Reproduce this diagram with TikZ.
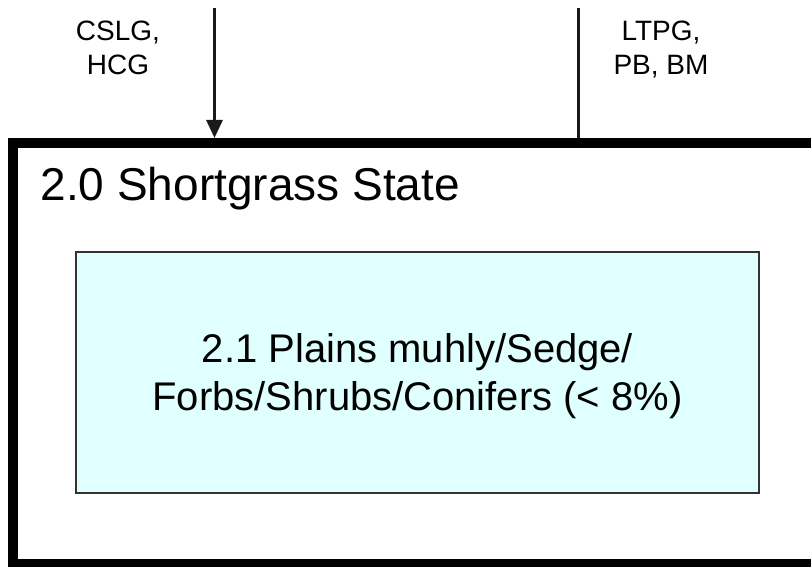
\documentclass[tikz,border=0pt]{standalone}
\usepackage{fontspec}
\setmainfont{Liberation Sans}
\usetikzlibrary{arrows.meta}
\definecolor{paleCyan}{HTML}{E0FFFF}
\definecolor{boxEdge}{HTML}{333333}
\definecolor{lineGray}{HTML}{1A1A1A}
\begin{document}
\begin{tikzpicture}[x=1pt,y=-1pt,
  statebox/.style={draw=black,line width=10pt,inner sep=0pt},
  phasebox/.style={draw=boxEdge,line width=2pt,fill=paleCyan,inner sep=0pt,
    minimum width=683pt,minimum height=241pt,align=center,text depth=0pt,
    font=\fontsize{40}{48}\selectfont},
  translabel/.style={align=center,text depth=0pt,font=\fontsize{28}{34}\selectfont},
  transline/.style={draw=lineGray,line width=3pt}]
\useasboundingbox (0,0) rectangle (811,567);
\node[statebox,minimum width=820pt,minimum height=421pt] (state) at (423,353.5) {};
\node[anchor=base west,font=\fontsize{46}{50}\selectfont] (title) at (37,200) {2.0 Shortgrass State};
\node[phasebox] (phase) at (417.5,372.5) {2.1 Plains muhly/Sedge/\\Forbs/Shrubs/Conifers (< 8\%)};
\coordinate (intop) at (214.5,8);
\coordinate (outtop) at (578,8);
\draw[transline,-{Triangle[width=16pt,length=18pt]}] (intop) -- (intop |- state.north);
\draw[transline] (outtop) -- (outtop |- state.north);
\node[translabel] (inlabel) at (118,48) {CSLG,\\HCG};
\node[translabel] (outlabel) at (661,48) {LTPG,\\PB, BM};
\end{tikzpicture}
\end{document}
